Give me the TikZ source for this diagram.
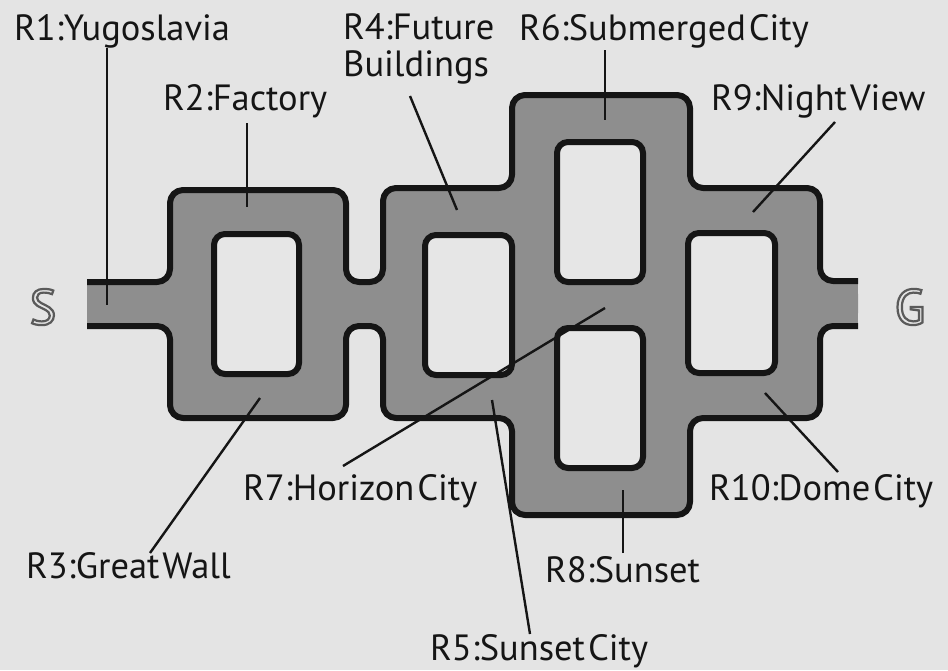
\documentclass[tikz,border=0pt]{standalone}
\usepackage{fontspec}
\setmainfont{PT Sans}[WordSpace=0.3]
\definecolor{bgc}{HTML}{E4E4E4}
\definecolor{holec}{HTML}{E6E6E6}
\definecolor{trackc}{HTML}{8E8E8E}
\definecolor{inkc}{HTML}{151515}
\definecolor{sgc}{HTML}{5A5A5A}
\begin{document}
\begin{tikzpicture}[x=1pt,y=-1pt,
  edge/.style={draw=inkc,line width=6pt,rounded corners=13pt,line join=round},
  holebox/.style={draw=inkc,fill=holec,line width=6pt,rounded corners=11pt},
  leader/.style={draw=inkc,line width=2.4pt},
  lab/.style={inner sep=0pt,anchor=base west,text=inkc,font=\fontsize{36.5}{38}\selectfont},
  sg/.style={inner sep=0pt,text=sgc,font=\fontsize{50}{50}\selectfont}]
\useasboundingbox (0,0) rectangle (948,670);
\fill[bgc] (0,0) rectangle (948,670);
% track fill
\fill[trackc,rounded corners=13pt] (87,282) -- (170,282) -- (170,190) -- (346,190) -- (346,282) -- (383,282) -- (383,188) -- (512,188) -- (512,95) -- (690,95) -- (690,188) -- (820,188) -- (820,281) -- (858,281) -- (858,326) -- (820,326) -- (820,418) -- (690,418) -- (690,515) -- (512,515) -- (512,418) -- (383,418) -- (383,326) -- (346,326) -- (346,418) -- (170,418) -- (170,326) -- (87,326) -- cycle;
\fill[trackc] (87,282) rectangle (140,326);
\fill[trackc] (800,281) rectangle (858,326);
% outlines
\draw[edge] (87,282) -- (170,282) -- (170,190) -- (346,190) -- (346,282) -- (383,282) -- (383,188) -- (512,188) -- (512,95) -- (690,95) -- (690,188) -- (820,188) -- (820,281) -- (858,281);
\draw[edge] (87,326) -- (170,326) -- (170,418) -- (346,418) -- (346,326) -- (383,326) -- (383,418) -- (512,418) -- (512,515) -- (690,515) -- (690,418) -- (820,418) -- (820,326) -- (858,326);
% holes
\draw[holebox] (214,234) rectangle (299,374);
\draw[holebox] (425,235) rectangle (512,375);
\draw[holebox] (557,142) rectangle (643,282);
\draw[holebox] (557,328) rectangle (643,468);
\draw[holebox] (688,233) rectangle (775,373);
% start / goal
\node[sg] (s) at (43,307) {\special{pdf:literal 1 Tr 2.2 w}S\special{pdf:literal 0 Tr}};
\node[sg] (g) at (910,307) {\special{pdf:literal 1 Tr 2.2 w}G\special{pdf:literal 0 Tr}};
% labels
\node[lab] (r1) at (14,40) {R1:Yugoslavia};
\node[lab] (r2) at (163,110) {R2:Factory};
\node[lab,align=left,anchor=north west] (r4) at (343,13) {R4:Future\\[-1pt]Buildings};
\node[lab] (r6) at (519,40) {R6:Submerged City};
\node[lab] (r9) at (711,110) {R9:Night View};
\node[lab] (r7) at (243,500) {R7:Horizon City};
\node[lab] (r10) at (709,500) {R10:Dome City};
\node[lab] (r3) at (26,578) {R3:Great Wall};
\node[lab] (r8) at (545,582) {R8:Sunset};
\node[lab] (r5) at (430,660) {R5:Sunset City};
% leader ends
\coordinate (a1) at (107,48);  \coordinate (b1) at (107,305);
\coordinate (a2) at (247,123); \coordinate (b2) at (247,207);
\coordinate (a4) at (410,96);  \coordinate (b4) at (457,210);
\coordinate (a6) at (605,50);  \coordinate (b6) at (605,120);
\coordinate (a9) at (835,122); \coordinate (b9) at (753,212);
\coordinate (a7) at (343,466); \coordinate (b7) at (605,308);
\coordinate (a3) at (150,553); \coordinate (b3) at (260,398);
\coordinate (a5) at (530,634); \coordinate (b5) at (492,400);
\coordinate (a8) at (623,553); \coordinate (b8) at (623,490);
\coordinate (a10) at (838,472); \coordinate (b10) at (765,393);
\draw[leader] (a1) -- (b1);
\draw[leader] (a2) -- (b2);
\draw[leader] (a4) -- (b4);
\draw[leader] (a6) -- (b6);
\draw[leader] (a9) -- (b9);
\draw[leader] (a7) -- (b7);
\draw[leader] (a3) -- (b3);
\draw[leader] (a5) -- (b5);
\draw[leader] (a8) -- (b8);
\draw[leader] (a10) -- (b10);
\end{tikzpicture}
\end{document}
